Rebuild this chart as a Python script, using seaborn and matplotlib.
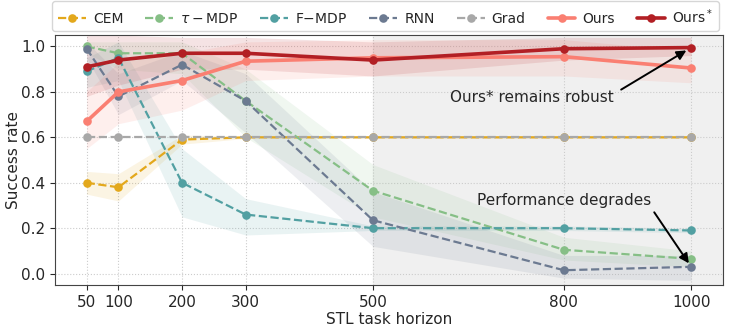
import matplotlib
matplotlib.use('Agg')
import matplotlib.pyplot as plt
import pandas as pd
import seaborn as sns

# Data
horizons = [50, 100, 200, 300, 500, 800, 1000]

cem = [0.40, 0.38, 0.59, 0.60, 0.60, 0.60, 0.60]
cem_lo = [0.35, 0.32, 0.57, 0.595, 0.595, 0.595, 0.595]
cem_hi = [0.45, 0.44, 0.61, 0.605, 0.605, 0.605, 0.605]

tau_mdp = [1.00, 0.97, 0.97, 0.76, 0.365, 0.105, 0.065]
tau_lo = [0.97, 0.90, 0.88, 0.60, 0.25, 0.06, 0.03]
tau_hi = [1.02, 1.02, 1.02, 0.90, 0.48, 0.16, 0.10]

f_mdp = [0.89, 0.95, 0.40, 0.26, 0.20, 0.20, 0.19]
f_lo = [0.82, 0.85, 0.25, 0.17, 0.19, 0.19, 0.18]
f_hi = [0.95, 1.02, 0.55, 0.33, 0.21, 0.21, 0.20]

rnn = [0.99, 0.78, 0.92, 0.76, 0.235, 0.015, 0.03]
rnn_lo = [0.95, 0.70, 0.85, 0.62, 0.12, -0.02, -0.03]
rnn_hi = [1.02, 0.88, 0.98, 0.88, 0.36, 0.08, 0.08]

grad = [0.60, 0.60, 0.60, 0.60, 0.60, 0.60, 0.60]

ours = [0.67, 0.80, 0.85, 0.935, 0.95, 0.955, 0.905]
ours_lo = [0.55, 0.66, 0.72, 0.85, 0.87, 0.87, 0.84]
ours_hi = [0.80, 0.93, 0.97, 1.02, 1.03, 1.03, 0.98]

ours_star = [0.91, 0.94, 0.97, 0.97, 0.94, 0.99, 0.995]
ours_star_lo = [0.78, 0.83, 0.90, 0.90, 0.87, 0.94, 0.96]
ours_star_hi = [1.05, 1.05, 1.04, 1.04, 1.02, 1.04, 1.04]

colors = {
    'CEM': '#E3A81C',
    r'$\tau-$MDP': '#86BF86',
    r'F$-$MDP': '#52A0A2',
    'RNN': '#6C7A91',
    'Grad': '#A8A8A8',
    'Ours': '#FA7F72',
    r'Ours$^*$': '#B21F24',
}

sns.set_style('white')
plt.rcParams['font.family'] = ['DejaVu Sans']

fig, ax = plt.subplots(figsize=(7.31, 3.31), dpi=100)
fig.subplots_adjust(left=0.075, right=0.989, bottom=0.139, top=0.894)

# grey background for long horizons
ax.axvspan(500, 1050, color='#f0f0f0', zorder=0)

series = [
    ('CEM', cem, cem_lo, cem_hi, '--', 1.6),
    (r'$\tau-$MDP', tau_mdp, tau_lo, tau_hi, '--', 1.6),
    (r'F$-$MDP', f_mdp, f_lo, f_hi, '--', 1.6),
    ('RNN', rnn, rnn_lo, rnn_hi, '--', 1.6),
    ('Grad', grad, None, None, '--', 1.6),
    ('Ours', ours, ours_lo, ours_hi, '-', 2.6),
    (r'Ours$^*$', ours_star, ours_star_lo, ours_star_hi, '-', 2.6),
]

for name, vals, lo, hi, ls, lw in series:
    c = colors[name]
    if lo is not None:
        ax.fill_between(horizons, lo, hi, color=c, alpha=0.12, linewidth=0, zorder=1)
    df = pd.DataFrame({'horizon': horizons, 'rate': vals})
    sns.lineplot(data=df, x='horizon', y='rate', ax=ax, color=c, linestyle=ls,
                 linewidth=lw, marker='o', markersize=6.2, markeredgewidth=0,
                 label=name, zorder=3)

ax.set_xlim(0, 1050)
ax.set_ylim(-0.05, 1.05)
ax.set_xticks(horizons)
ax.set_yticks([0.0, 0.2, 0.4, 0.6, 0.8, 1.0])
ax.tick_params(axis='both', labelsize=11, length=3.5, left=True, bottom=True)
ax.grid(True, linestyle=':', color='#cccccc', linewidth=0.8)
ax.set_axisbelow(True)
ax.set_xlabel('STL task horizon', fontsize=11, labelpad=2)
ax.set_ylabel('Success rate', fontsize=11, labelpad=0)
for s in ax.spines.values():
    s.set_color('#444444')

ax.text(750, 0.775, 'Ours* remains robust', fontsize=11, ha='center', va='center')
ax.annotate('', xy=(1000, 0.995), xytext=(890, 0.81),
            arrowprops=dict(arrowstyle='-|>', color='black', lw=1.4,
                            shrinkA=0, shrinkB=4, mutation_scale=14))
ax.text(800, 0.32, 'Performance degrades', fontsize=11, ha='center', va='center')
ax.annotate('', xy=(1000, 0.03), xytext=(942, 0.27),
            arrowprops=dict(arrowstyle='-|>', color='black', lw=1.4,
                            shrinkA=0, shrinkB=3, mutation_scale=14))

ax.legend(loc='lower center', bbox_to_anchor=(0.495, 0.988), ncol=7, fontsize=10,
          frameon=True, fancybox=True, columnspacing=1.6, handlelength=2.0,
          handletextpad=0.5, borderpad=0.4)

fig.savefig('out.png', dpi=100)
